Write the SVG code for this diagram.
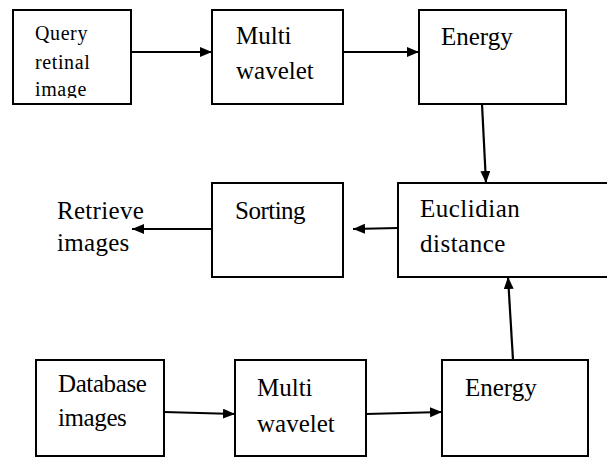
<svg xmlns="http://www.w3.org/2000/svg" width="607" height="458" viewBox="0 0 607 458">
<style>
.box{fill:#fff;stroke:#000;stroke-width:2}
.c{stroke:#000;stroke-width:2.2;fill:none;marker-end:url(#ah)}
</style>
<defs>
<marker id="ah" viewBox="0 0 12 10" refX="12" refY="5" markerWidth="12" markerHeight="10" markerUnits="userSpaceOnUse" orient="auto">
<path d="M0,0 L12,5 L0,10 Z" fill="#000"/>
</marker>
<clipPath id="qclip"><rect x="13" y="10" width="118" height="88"/></clipPath>
</defs>
<rect width="607" height="458" fill="#fff"/>
<g id="query">
<rect class="box" x="13" y="10" width="118" height="94"/>
<g clip-path="url(#qclip)" font-family="Liberation Serif" font-size="20" letter-spacing="0.6">
<text x="35" y="40">Query</text>
<text x="35" y="69">retinal</text>
<text x="35" y="96">image</text>
</g>
</g>
<g id="multi1" font-family="Liberation Serif" font-size="25">
<rect class="box" x="212" y="10" width="131" height="94"/>
<text x="236" y="44">Multi</text>
<text x="236" y="79">wavelet</text>
</g>
<g id="energy1" font-family="Liberation Serif" font-size="25">
<rect class="box" x="419" y="10" width="147" height="94"/>
<text x="441" y="45">Energy</text>
</g>
<g id="euclid" font-family="Liberation Serif" font-size="25" letter-spacing="0.5">
<rect class="box" x="398" y="183" width="210" height="94"/>
<text x="420" y="217">Euclidian</text>
<text x="420" y="252">distance</text>
</g>
<g id="sorting" font-family="Liberation Serif" font-size="25" letter-spacing="-0.5">
<rect class="box" x="212" y="183" width="131" height="94"/>
<text x="235" y="219">Sorting</text>
</g>
<g id="retrieve" font-family="Liberation Serif" font-size="25" letter-spacing="0.3">
<text x="57" y="219">Retrieve</text>
<text x="57" y="251">images</text>
</g>
<g id="database" font-family="Liberation Serif" font-size="25" letter-spacing="-0.4">
<rect class="box" x="36" y="360" width="128" height="96"/>
<text x="58" y="392">Database</text>
<text x="58" y="426">images</text>
</g>
<g id="multi2" font-family="Liberation Serif" font-size="25">
<rect class="box" x="235" y="360" width="131" height="96"/>
<text x="257" y="396">Multi</text>
<text x="257" y="432">wavelet</text>
</g>
<g id="energy2" font-family="Liberation Serif" font-size="25">
<rect class="box" x="442" y="360" width="146" height="96"/>
<text x="465" y="396">Energy</text>
</g>
<g id="connectors">
<line class="c" x1="131" y1="52" x2="212" y2="52"/>
<line class="c" x1="343" y1="52" x2="419" y2="52"/>
<line class="c" x1="482" y1="104" x2="486" y2="183"/>
<line class="c" x1="398" y1="228" x2="353" y2="229"/>
<line class="c" x1="212" y1="229" x2="132" y2="229"/>
<line class="c" x1="164" y1="412" x2="235" y2="414"/>
<line class="c" x1="366" y1="414" x2="442" y2="412"/>
<line class="c" x1="513" y1="360" x2="508" y2="277"/>
</g>
</svg>
